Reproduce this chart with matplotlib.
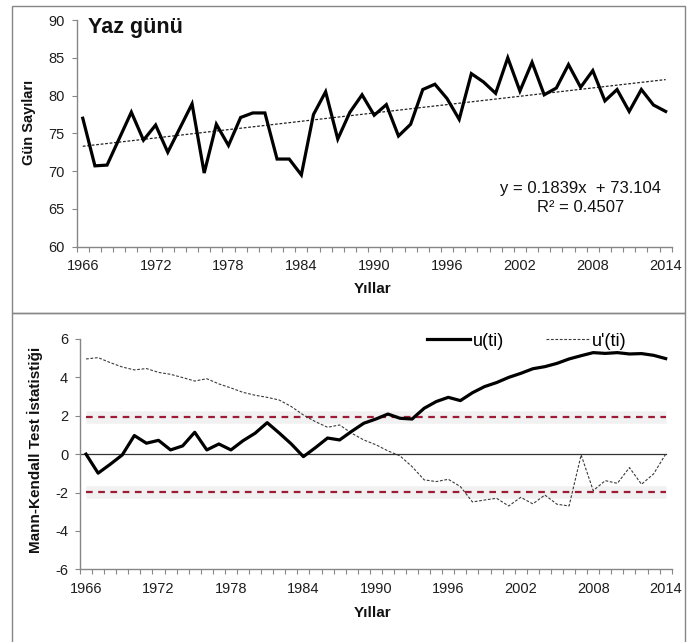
import numpy as np
import matplotlib
matplotlib.use("Agg")
import matplotlib.pyplot as plt
from matplotlib.patches import Rectangle
from matplotlib.ticker import FixedLocator

plt.rcParams['font.family'] = ['Liberation Sans', 'DejaVu Sans']
plt.rcParams['axes.unicode_minus'] = False

years = list(range(1966, 2015))
yaz_gunu = [77.0, 70.7, 70.8, 74.3, 77.8, 74.1, 76.1, 72.5, 75.7, 78.9,
            69.75, 76.2, 73.4, 77.1, 77.7, 77.7, 71.6, 71.6, 69.5, 77.5,
            80.5, 74.25, 77.8, 80.1, 77.4, 78.8, 74.65, 76.2, 80.8, 81.5,
            79.6, 76.85, 82.9, 81.8, 80.3, 85.0, 80.6, 84.4, 80.1, 81.0,
            84.1, 81.1, 83.3, 79.3, 80.8, 77.9, 80.8, 78.75, 77.9]
trend_slope = 0.1839
trend_intercept = 73.104
trend_r2 = 0.4507

u_ti = [0.0, -0.99, -0.53, -0.04, 0.97, 0.57, 0.72, 0.22, 0.43, 1.14,
        0.22, 0.53, 0.22, 0.70, 1.09, 1.64, 1.10, 0.53, -0.13, 0.34,
        0.84, 0.74, 1.19, 1.61, 1.83, 2.09, 1.87, 1.83, 2.39, 2.74,
        2.96, 2.79, 3.20, 3.52, 3.73, 4.00, 4.21, 4.45, 4.56, 4.73,
        4.96, 5.13, 5.29, 5.25, 5.29, 5.22, 5.24, 5.15, 4.98]
u_prime_ti = [4.96, 5.03, 4.77, 4.54, 4.39, 4.46, 4.26, 4.16, 3.99, 3.81,
              3.93, 3.66, 3.45, 3.22, 3.07, 2.96, 2.82, 2.48, 2.04, 1.69,
              1.40, 1.52, 1.09, 0.74, 0.49, 0.17, -0.09, -0.65, -1.34, -1.43,
              -1.31, -1.69, -2.49, -2.39, -2.30, -2.70, -2.25, -2.59, -2.13, -2.61,
              -2.70, -0.04, -1.90, -1.38, -1.52, -0.70, -1.57, -1.03, 0.0]
crit = 1.96
legend_labels = ["u(ti)", "u'(ti)"]
xtick_years = [1966, 1972, 1978, 1984, 1990, 1996, 2002, 2008, 2014]
top_yticks = [60, 65, 70, 75, 80, 85, 90]
bot_yticks = [-6, -4, -2, 0, 2, 4, 6]

W, H = 697, 642
fig = plt.figure(figsize=(W / 100, H / 100), dpi=100)
fig.patch.set_facecolor('white')

def fx(px):
    return px / W

def fy(py):
    return 1 - py / H

GRAY = '#868686'
TXT = '#1e1e1e'

# panel frames
fig.patches.append(Rectangle((fx(12), fy(313)), fx(685) - fx(12), fy(6) - fy(313),
                             transform=fig.transFigure, fill=False, edgecolor=GRAY, lw=1.0))
fig.patches.append(Rectangle((fx(12), fy(645)), fx(685) - fx(12), fy(313) - fy(645),
                             transform=fig.transFigure, fill=False, edgecolor=GRAY, lw=1.0))

def style_axes(ax):
    for s in ['top', 'right']:
        ax.spines[s].set_visible(False)
    for s in ['left', 'bottom']:
        ax.spines[s].set_color(GRAY)
        ax.spines[s].set_linewidth(1.0)
    ax.set_xlim(1965.5, 2014.5)
    ax.set_xticks(xtick_years)
    ax.set_xticklabels([str(y) for y in xtick_years])
    ax.xaxis.set_minor_locator(FixedLocator(np.arange(1965.5, 2015.0, 1.0)))
    ax.tick_params(axis='x', which='major', length=0, pad=9, labelsize=10.5, labelcolor=TXT)
    ax.tick_params(axis='x', which='minor', length=3.5, width=0.8, color=GRAY, direction='out')
    ax.tick_params(axis='y', which='major', length=3.5, width=0.8, color=GRAY, direction='out',
                   pad=5, labelsize=10.5, labelcolor=TXT)
    ax.set_facecolor('none')

# ---------- top panel ----------
ax1 = fig.add_axes([fx(76.7), fy(246.7), fx(671.7) - fx(76.7), fy(20) - fy(246.7)])
style_axes(ax1)
ax1.set_ylim(60, 90)
ax1.set_yticks(top_yticks)
idx = np.arange(1, len(years) + 1)
trend = trend_slope * idx + trend_intercept
ax1.plot(years, trend, color='#222222', lw=0.9, dashes=(2.2, 1.4), zorder=2)
ax1.plot(years, yaz_gunu, color='black', lw=2.3, zorder=3, solid_joinstyle='miter')

fig.text(fx(88), fy(27), 'Yaz günü', fontsize=15.5, fontweight='bold', ha='left', va='center',
         color='#111111')
fig.text(fx(29), fy(122), 'Gün Sayıları', rotation=90, fontsize=10.5, fontweight='bold',
         ha='center', va='center', color='#111111')
fig.text(fx(373), fy(289), 'Yıllar', fontsize=11, fontweight='bold', ha='center', va='center',
         color='#111111')
fig.text(fx(581), fy(189), 'y = %.4fx  + %.3f' % (trend_slope, trend_intercept), fontsize=12,
         ha='center', va='center', color='#111111')
fig.text(fx(581), fy(208), 'R² = %.4f' % trend_r2, fontsize=12,
         ha='center', va='center', color='#111111')

# ---------- bottom panel ----------
ax2 = fig.add_axes([fx(80), fy(569.3), fx(671.7) - fx(80), fy(339) - fy(569.3)])
style_axes(ax2)
ax2.set_ylim(-6, 6)
ax2.set_yticks(bot_yticks)
ax2.set_yticklabels([str(v) for v in bot_yticks])

for c in (crit, -crit):
    ax2.plot(years, [c] * len(years), color='#f1f1f1', lw=9, solid_capstyle='butt', zorder=1)
    ax2.plot(years, [c] * len(years), color='#9e1b35', lw=1.6, dashes=(3, 2.5), zorder=2)
ax2.plot([1965.6, 2014], [0, 0], color='#333333', lw=0.9, zorder=2)
l2, = ax2.plot(years, u_prime_ti, color='#3a3a3a', lw=0.8, dashes=(2.5, 1.5), zorder=3)
l1, = ax2.plot(years, u_ti, color='black', lw=2.3, zorder=4)

fig.legend([l1, l2], legend_labels, ncol=2, frameon=False, loc='center left',
           bbox_to_anchor=(fx(427), fy(341)), bbox_transform=fig.transFigure,
           borderpad=0, borderaxespad=0, handlelength=2.4, handletextpad=0.15,
           columnspacing=2.3, fontsize=13)

fig.text(fx(35), fy(450), 'Mann-Kendall Test İstatistiği', rotation=90, fontsize=11,
         fontweight='bold', ha='center', va='center', color='#111111')
fig.text(fx(373), fy(613), 'Yıllar', fontsize=11, fontweight='bold', ha='center', va='center',
         color='#111111')

fig.savefig('out.png', dpi=100, facecolor='white')
